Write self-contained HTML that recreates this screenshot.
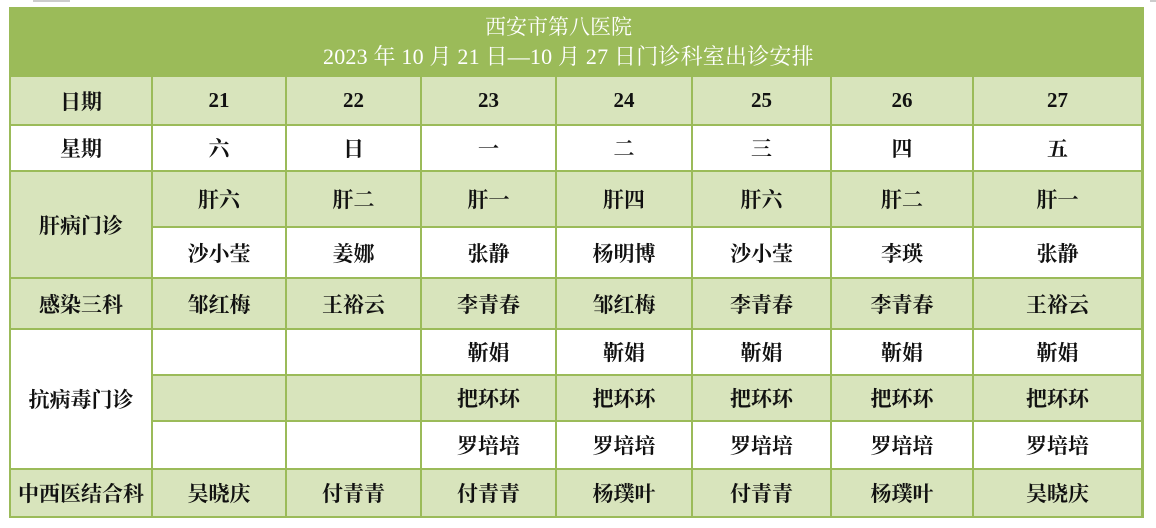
<!DOCTYPE html>
<html>
<head>
<meta charset="utf-8">
<style>
html,body{margin:0;padding:0;background:#fff;}
body{width:1156px;height:528px;position:relative;overflow:hidden;
font-family:"Liberation Serif","Noto Serif CJK SC",serif;}
#tbl{position:absolute;left:9px;top:7px;width:1135px;height:511px;background:#9bbb59;}
.c{position:absolute;display:flex;align-items:center;justify-content:center;
font-size:21px;font-weight:bold;color:#111;white-space:nowrap;}
.l{background:#d8e4bc;}
.w{background:#fff;}
.t{position:absolute;color:#fff;white-space:nowrap;font-weight:normal;line-height:30px;}
</style>
</head>
<body>
<div style="position:absolute;left:33px;top:0;width:37px;height:2px;background:#ccc;"></div>
<div style="position:absolute;left:1150px;top:0;width:6px;height:2px;background:#ccc;"></div>
<div id="tbl"></div>
<div class="t" style="left:485px;top:12px;font-size:21px;">西安市第八医院</div>
<div class="t" style="left:323px;top:42px;font-size:22px;letter-spacing:0.2px;">2023 年 10 月 21 日—10 月 27 日门诊科室出诊安排</div>
<div id="cells"></div>
<script>
var xs=[11,153,287,422,557,693,832,974,1142];
var ye=[[77,124],[126,170],[172,226],[228,277],[279,328],[330,374],[376,420],[422,468],[470,516]];
var rows=[
 ['l',['日期','21','22','23','24','25','26','27']],
 ['w',['星期','六','日','一','二','三','四','五']],
 ['l',[null,'肝六','肝二','肝一','肝四','肝六','肝二','肝一']],
 ['w',[null,'沙小莹','姜娜','张静','杨明博','沙小莹','李瑛','张静']],
 ['l',['感染三科','邹红梅','王裕云','李青春','邹红梅','李青春','李青春','王裕云']],
 ['w',[null,'','','靳娟','靳娟','靳娟','靳娟','靳娟']],
 ['l',[null,'','','把环环','把环环','把环环','把环环','把环环']],
 ['w',[null,'','','罗培培','罗培培','罗培培','罗培培','罗培培']],
 ['l',['中西医结合科','吴晓庆','付青青','付青青','杨璞叶','付青青','杨璞叶','吴晓庆']]
];
var h='';
function cell(cls,x0,x1,y0,y1,t){
 h+='<div class="c '+cls+'" style="left:'+x0+'px;top:'+y0+'px;width:'+(x1-x0)+'px;height:'+(y1-y0)+'px;">'+t+'</div>';
}
for(var r=0;r<rows.length;r++){
 var cls=rows[r][0],d=rows[r][1];
 for(var c=0;c<8;c++){
  if(d[c]===null)continue;
  var x0=xs[c],x1=xs[c+1]-2;
  if(c===7)x1=1141;
  cell(cls,x0,x1,ye[r][0],ye[r][1],d[c]);
 }
}
cell('l',11,151,172,277,'肝病门诊');
cell('w',11,151,330,468,'抗病毒门诊');
document.getElementById('cells').innerHTML=h;
</script>
</body>
</html>
